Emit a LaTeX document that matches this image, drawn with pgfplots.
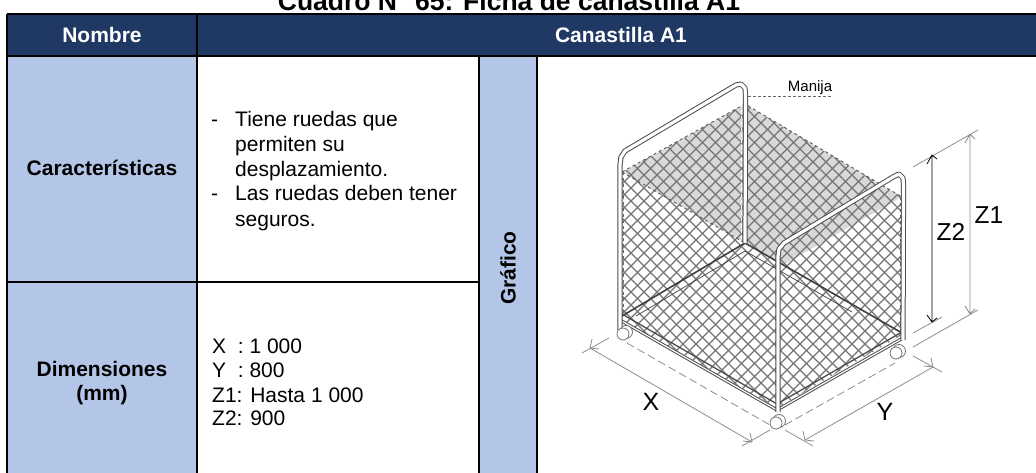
\documentclass[border=0pt]{standalone}
\usepackage{fontspec}
\setmainfont{Liberation Sans}
\usepackage{pgfplots}
\pgfplotsset{compat=1.18}
\definecolor{navy}{HTML}{1F3864}
\definecolor{label}{HTML}{B4C6E7}
\definecolor{greytop}{HTML}{D9D9D9}
\definecolor{meshc}{HTML}{747474}
\definecolor{dimc}{HTML}{8C8C8C}
\newcommand{\body}{\fontsize{21}{25}\selectfont}
\newcommand{\bbody}{\fontsize{21}{25}\selectfont\bfseries}
\begin{document}
\begin{tikzpicture}
\useasboundingbox (0,0) rectangle (1036pt,473pt);
\begin{axis}[at={(0pt,0pt)},anchor=south west,scale only axis,width=1036pt,height=473pt,
  xmin=0,xmax=1036,ymin=0,ymax=473,y dir=reverse,hide axis,clip=false,unbounded coords=jump,
  line join=round]
% cells
\addplot[fill=navy,draw=none] coordinates {(7,14)(1036,14)(1036,56)(7,56)} -- cycle;
\addplot[fill=label,draw=none] coordinates {(7,56)(197,56)(197,473)(7,473)} -- cycle;
\addplot[fill=label,draw=none] coordinates {(479,56)(537,56)(537,473)(479,473)} -- cycle;
% grid
\addplot[black,line width=2pt] coordinates {(7,14)(1036,14)(nan,nan)(7,56)(1036,56)(nan,nan)(7,14)(7,473)(nan,nan)(197,14)(197,473)(nan,nan)(479,56)(479,473)(nan,nan)(537,56)(537,473)(nan,nan)(7,282)(479,282)};
% title and cell text
\node[anchor=base,font=\fontsize{26.5}{30}\selectfont\bfseries] at (axis cs:509,11) {Cuadro N° 65: Ficha de canastilla A1};
\node[anchor=center,text=white,font=\bbody] at (axis cs:102,35) {Nombre};
\node[anchor=center,text=white,font=\bbody] at (axis cs:621,35) {Canastilla A1};
\node[anchor=base,font=\bbody] at (axis cs:102,176) {Características};
\node[anchor=base,font=\bbody] at (axis cs:102,376) {Dimensiones};
\node[anchor=base,font=\bbody] at (axis cs:102,400) {(mm)};
\node[anchor=center,rotate=90,font=\bbody] at (axis cs:508,268) {Gráfico};
\node[anchor=base west,inner sep=0pt,font=\body] at (axis cs:211,127) {-};
\node[anchor=base west,inner sep=0pt,font=\body] at (axis cs:235,127) {Tiene ruedas que};
\node[anchor=base west,inner sep=0pt,font=\body] at (axis cs:235,152) {permiten su};
\node[anchor=base west,inner sep=0pt,font=\body] at (axis cs:235,177) {desplazamiento.};
\node[anchor=base west,inner sep=0pt,font=\body] at (axis cs:211,201) {-};
\node[anchor=base west,inner sep=0pt,font=\body] at (axis cs:235,201) {Las ruedas deben tener};
\node[anchor=base west,inner sep=0pt,font=\body] at (axis cs:235,226) {seguros.};
\node[anchor=base west,inner sep=0pt,font=\body] at (axis cs:212,353) {X\ \ : 1 000};
\node[anchor=base west,inner sep=0pt,font=\body] at (axis cs:212,377) {Y\ \ : 800};
\node[anchor=base west,inner sep=0pt,font=\body] at (axis cs:212,402) {Z1: Hasta 1 000};
\node[anchor=base west,inner sep=0pt,font=\body] at (axis cs:212,425) {Z2: 900};
% grey top
\addplot[fill=greytop,draw=none] coordinates {(745,104)(902,197)(783,265)(622,172)} -- cycle;
% mesh, family x+y
\addplot[meshc,line width=1.1pt] coordinates {
(622,171)(689,104)(nan,nan)(622,184)(702,104)(nan,nan)(622,197)(715,104)(nan,nan)(622,210)(728,104)(nan,nan)
(622,223)(741,104)(nan,nan)(622,236)(754,104)(nan,nan)(622,249)(767,104)(nan,nan)(622,262)(780,104)(nan,nan)
(622,275)(793,104)(nan,nan)(622,288)(806,104)(nan,nan)(622,301)(819,104)(nan,nan)(622,314)(832,104)(nan,nan)
(622,327)(845,104)(nan,nan)(622,340)(858,104)(nan,nan)(622,353)(871,104)(nan,nan)(622,366)(884,104)(nan,nan)
(622,379)(897,104)(nan,nan)(622,392)(902,112)(nan,nan)(622,405)(902,125)(nan,nan)(632,408)(902,138)(nan,nan)
(645,408)(902,151)(nan,nan)(658,408)(902,164)(nan,nan)(671,408)(902,177)(nan,nan)(684,408)(902,190)(nan,nan)
(697,408)(902,203)(nan,nan)(710,408)(902,216)(nan,nan)(723,408)(902,229)(nan,nan)(736,408)(902,242)(nan,nan)
(749,408)(902,255)(nan,nan)(762,408)(902,268)(nan,nan)(775,408)(902,281)(nan,nan)(788,408)(902,294)(nan,nan)
(801,408)(902,307)(nan,nan)(814,408)(902,320)(nan,nan)(827,408)(902,333)};
% mesh, family x-y
\addplot[meshc,line width=1.1pt] coordinates {
(622,322)(708,408)(nan,nan)(622,309)(721,408)(nan,nan)(622,296)(734,408)(nan,nan)(622,283)(747,408)(nan,nan)
(622,270)(760,408)(nan,nan)(622,257)(773,408)(nan,nan)(622,244)(786,408)(nan,nan)(622,231)(799,408)(nan,nan)
(622,218)(812,408)(nan,nan)(622,205)(825,408)(nan,nan)(622,192)(838,408)(nan,nan)(622,179)(851,408)(nan,nan)
(622,166)(864,408)(nan,nan)(622,153)(877,408)(nan,nan)(622,140)(890,408)(nan,nan)(622,127)(902,407)(nan,nan)
(622,114)(902,394)(nan,nan)(625,104)(902,381)(nan,nan)(638,104)(902,368)(nan,nan)(651,104)(902,355)(nan,nan)
(664,104)(902,342)(nan,nan)(677,104)(902,329)(nan,nan)(690,104)(902,316)(nan,nan)(703,104)(902,303)(nan,nan)
(716,104)(902,290)(nan,nan)(729,104)(902,277)(nan,nan)(742,104)(902,264)(nan,nan)(755,104)(902,251)(nan,nan)
(768,104)(902,238)(nan,nan)(781,104)(902,225)(nan,nan)(794,104)(902,212)(nan,nan)(807,104)(902,199)};
% white around the cage
\addplot[fill=white,draw=none] coordinates {(615,100)(745,100)(745,104)(622,172)(622,320)(777,408)(777,412)(615,412)} -- cycle;
\addplot[fill=white,draw=none] coordinates {(745,100)(908,100)(908,412)(777,412)(777,408)(902,335)(902,197)(745,104)} -- cycle;
% rim and floor edges
\addplot[black!65,line width=0.9pt,dashed] coordinates {(622,172)(745,104)(902,197)};
\addplot[black!65,line width=0.9pt,dashed] coordinates {(622,172)(745,243)};
\addplot[black!75,line width=1.6pt] coordinates {(622,316)(745,243)(902,333)};
\addplot[black!75,line width=0.7pt] coordinates {(636,316)(745,251)(852,312)};
\addplot[black!70,line width=1.3pt] coordinates {(622,314)(777,404)(902,332)};
\addplot[black!60,line width=0.8pt,dashed] coordinates {(623,172)(623,316)};
\addplot[black!60,line width=0.8pt,dashed] coordinates {(900,197)(900,332)};
\addplot[white,line width=0.9pt,dashed] coordinates {(741,104)(741,243)};
% bottom frame
\addplot[black!70,line width=3.2pt] coordinates {(620,320)(777,410)(903,338)};
\addplot[white,line width=1.2pt] coordinates {(620,320)(777,410)(903,338)};
% wheels
\addplot[only marks,mark=*,mark size=6.5pt,mark options={fill=white,draw=black!55,line width=0.8pt}] coordinates {(626,332)(899,351)(779,421)};
\addplot[only marks,mark=*,mark size=6pt,mark options={fill=white,draw=black!55,line width=0.8pt}] coordinates {(623,334)(896,353)(776,423)};
% tubes
\addplot[black!70,line width=5.2pt] coordinates {(620,330)(620,165)(621,157)(625,151)(736,85)(741,84)(745,88)(745.5,95)(745,243)};
\addplot[white,line width=3.2pt] coordinates {(620,330)(620,165)(621,157)(625,151)(736,85)(741,84)(745,88)(745.5,95)(745,243)};
\addplot[black!70,line width=5.2pt] coordinates {(778,412)(778,256)(779,249)(784,243)(893,177)(899,174)(903,178)(903.5,185)(903,340)};
\addplot[white,line width=3.2pt] coordinates {(778,412)(778,256)(779,249)(784,243)(893,177)(899,174)(903,178)(903.5,185)(903,340)};
% dimension lines
\addplot[dimc,line width=0.8pt] coordinates {(590,348)(752,442)(nan,nan)(582,353)(609,338)(nan,nan)(742,446)(770,430)(nan,nan)(805,440)(933,367)(nan,nan)(785,430)(813,446)(nan,nan)(913,356)(942,372)(nan,nan)(913,167)(978,130)(nan,nan)(913,333)(942,317)(nan,nan)(913,347)(978,310)};
\addplot[dimc,line width=0.8pt,dash pattern=on 8pt off 4pt] coordinates {(627,343)(770,425)(nan,nan)(785,425)(895,363)};
\addplot[dimc,line width=0.8pt] coordinates {(592,339)(590,348)(599,349)(nan,nan)(743,441)(752,442)(750,433)(nan,nan)(803,431)(805,440)(814,441)(nan,nan)(924,366)(933,367)(931,358)};
\addplot[black,line width=0.8pt] coordinates {(932,155)(932,322)(nan,nan)(927,164)(932,155)(937,159)(nan,nan)(927,315)(932,322)(937,318)};
\addplot[dimc,line width=0.9pt] coordinates {(970,134)(970,314)(nan,nan)(965,143)(970,134)(975,139)(nan,nan)(965,306)(970,314)(975,309)};
\addplot[black!60,line width=0.7pt,densely dashed] coordinates {(748,96)(833,96)};
\node[anchor=center,font=\fontsize{15}{18}\selectfont] at (axis cs:810,88) {Manija};
\node[anchor=center,font=\fontsize{24.5}{28}\selectfont] at (axis cs:951,232) {Z2};
\node[anchor=center,font=\fontsize{24.5}{28}\selectfont] at (axis cs:989,215) {Z1};
\node[anchor=center,font=\fontsize{25}{28}\selectfont] at (axis cs:651,402) {X};
\node[anchor=center,font=\fontsize{25}{28}\selectfont] at (axis cs:885,412) {Y};
\end{axis}
\end{tikzpicture}
\end{document}
